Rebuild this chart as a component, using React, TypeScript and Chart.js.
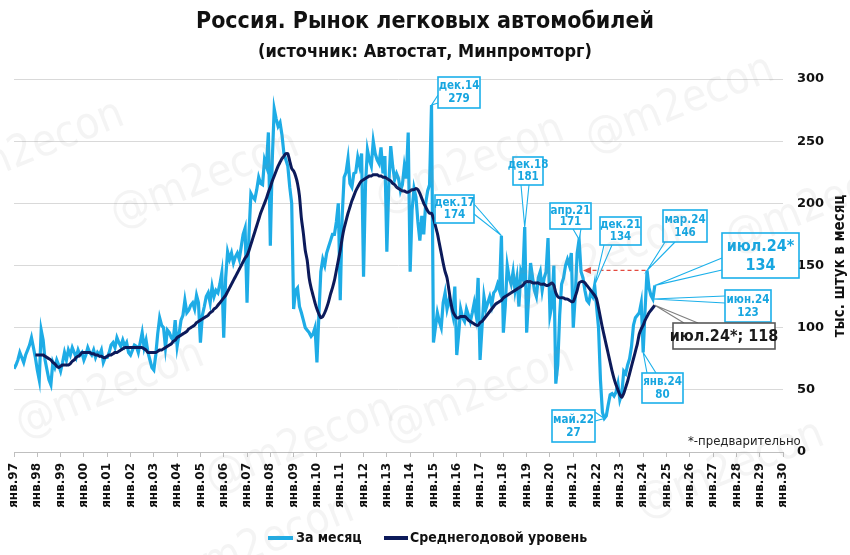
import React, { useEffect, useRef } from 'react';
import { Chart, registerables } from 'chart.js';

Chart.register(...registerables);

const START_YEAR = 1997;
const MONTH_NAMES = ['янв', 'фев', 'мар', 'апр', 'май', 'июн', 'июл', 'авг', 'сен', 'окт', 'ноя', 'дек'];
const seriesNames = ['За месяц', 'Среднегодовой уровень'];
const xTickLabels = [
  'янв.97', 'янв.98', 'янв.99', 'янв.00', 'янв.01', 'янв.02', 'янв.03', 'янв.04', 'янв.05', 'янв.06',
  'янв.07', 'янв.08', 'янв.09', 'янв.10', 'янв.11', 'янв.12', 'янв.13', 'янв.14', 'янв.15', 'янв.16',
  'янв.17', 'янв.18', 'янв.19', 'янв.20', 'янв.21', 'янв.22', 'янв.23', 'янв.24', 'янв.25', 'янв.26',
  'янв.27', 'янв.28', 'янв.29', 'янв.30',
];
const yTicks = [0, 50, 100, 150, 200, 250, 300];

// monthly sales, thousand cars (Jan 1997 .. Jul 2024)
const monthlySales = [
  67, 70, 74, 80, 76, 72, 78, 82, 86, 92, 84, 76, // 1997
  66, 58, 98, 90, 74, 66, 58, 54, 72, 68, 74, 70, // 1998
  65, 72, 80, 74, 82, 78, 84, 80, 76, 82, 78, 80, // 1999
  74, 78, 84, 80, 78, 82, 76, 80, 78, 82, 72, 76, // 2000
  76, 80, 86, 88, 84, 92, 88, 85, 90, 85, 88, 80, // 2001
  78, 82, 86, 85, 80, 88, 96, 84, 90, 80, 74, 68, // 2002
  66, 78, 95, 108, 102, 100, 84, 98, 96, 92, 90, 106, // 2003
  85, 95, 106, 110, 122, 112, 114, 118, 120, 115, 126, 120, // 2004
  88, 110, 117, 125, 128, 120, 133, 125, 130, 128, 135, 144, // 2005
  92, 140, 161, 155, 160, 152, 157, 160, 155, 165, 175, 180, // 2006
  120, 175, 208, 205, 203, 211, 221, 216, 215, 235, 230, 257, // 2007
  166, 235, 276, 268, 262, 265, 255, 240, 235, 230, 213, 200, // 2008
  115, 130, 132, 117, 112, 106, 100, 98, 96, 93, 95, 100, // 2009
  72, 110, 145, 155, 150, 160, 165, 170, 175, 175, 185, 200, // 2010
  122, 190, 221, 225, 236, 216, 213, 224, 225, 237, 230, 240, // 2011
  141, 215, 243, 235, 230, 250, 240, 235, 232, 245, 224, 238, // 2012
  161, 215, 246, 230, 219, 224, 220, 210, 215, 230, 220, 257, // 2013
  145, 195, 212, 205, 185, 170, 190, 175, 200, 210, 215, 279, // 2014
  88, 100, 112, 105, 100, 120, 128, 115, 122, 118, 110, 133, // 2015
  78, 95, 115, 108, 105, 115, 110, 105, 112, 120, 110, 140, // 2016
  74, 100, 125, 115, 120, 125, 118, 128, 130, 135, 130, 174, // 2017
  96, 118, 150, 140, 135, 145, 130, 140, 117, 145, 140, 181, // 2018
  96, 125, 152, 141, 130, 125, 140, 145, 130, 140, 145, 172, // 2019
  110, 118, 150, 55, 70, 110, 135, 140, 150, 155, 150, 160, // 2020
  100, 125, 160, 171, 145, 140, 130, 122, 120, 128, 125, 134, // 2021
  117, 100, 58, 32, 27, 29, 38, 46, 47, 45, 48, 55, // 2022
  42, 47, 65, 63, 70, 75, 85, 102, 108, 110, 112, 120, // 2023
  80, 115, 146, 132, 126, 123, 134, // 2024
];

// 12-month average level, thousand cars
const annualAverage = [
  null, null, null, null, null, null, null, null, null, null, null, 78, // 1997
  78, 78, 78, 78, 77, 76, 75, 74, 72, 71, 69, 68, // 1998
  69, 70, 70, 70, 70, 71, 73, 74, 76, 77, 78, 80, // 1999
  80, 80, 80, 80, 79, 79, 78, 78, 77, 77, 76, 76, // 2000
  77, 78, 78, 79, 80, 80, 81, 82, 83, 84, 84, 84, // 2001
  84, 84, 84, 84, 84, 84, 84, 83, 82, 80, 80, 80, // 2002
  80, 80, 81, 82, 82, 83, 84, 85, 86, 87, 89, 90, // 2003
  92, 93, 94, 95, 96, 97, 99, 100, 101, 102, 104, 105, // 2004
  106, 107, 108, 109, 110, 112, 113, 115, 116, 118, 120, 122, // 2005
  124, 126, 129, 132, 135, 138, 141, 144, 147, 150, 153, 156, // 2006
  158, 162, 167, 172, 177, 182, 187, 192, 196, 200, 204, 209, // 2007
  213, 218, 222, 226, 230, 233, 236, 238, 240, 240, 234, 228, // 2008
  226, 222, 216, 206, 188, 176, 162, 154, 140, 132, 126, 120, // 2009
  115, 111, 108, 109, 112, 116, 121, 127, 132, 138, 146, 154, // 2010
  162, 172, 180, 186, 192, 197, 202, 206, 210, 213, 216, 218, // 2011
  219, 220, 221, 222, 222, 223, 223, 223, 222, 222, 221, 221, // 2012
  220, 219, 218, 216, 215, 213, 212, 211, 210, 210, 209, 209, // 2013
  210, 211, 211, 212, 211, 208, 204, 200, 197, 194, 192, 192, // 2014
  188, 182, 176, 168, 160, 152, 145, 140, 130, 120, 113, 110, // 2015
  108, 108, 109, 109, 109, 108, 106, 105, 104, 103, 102, 102, // 2016
  104, 105, 107, 109, 111, 113, 115, 117, 119, 120, 121, 122, // 2017
  124, 125, 126, 127, 128, 129, 130, 131, 132, 133, 134, 136, // 2018
  137, 137, 137, 136, 136, 136, 136, 135, 135, 135, 134, 134, // 2019
  135, 136, 134, 128, 125, 124, 124, 124, 123, 123, 122, 121, // 2020
  121, 125, 130, 136, 137, 137, 136, 134, 132, 130, 128, 126, // 2021
  123, 116, 108, 100, 93, 86, 79, 72, 65, 59, 54, 50, // 2022
  46, 44, 47, 52, 57, 63, 69, 75, 81, 87, 95, 99, // 2023
  102, 106, 109, 112, 114, 116, 118, // 2024
];

const FONT = '"Liberation Sans Narrow", "DejaVu Sans Condensed", "Open Sans", sans-serif';
const WIDE_FONT = '"DejaVu Sans", Verdana, sans-serif';
const CYAN = '#1eace6';
const NAVY = '#0c1a5a';
const BOX_BLUE = '#1bb0ea';
const TEXT_BLUE = '#17a6e0';

const monthLabel = (i: number) =>
  MONTH_NAMES[i % 12] + '.' + String((START_YEAR + Math.floor(i / 12)) % 100).padStart(2, '0');

// callout layout (pixel boxes); values come from the data arrays
const callouts = [
  { series: 'm', idx: 215, box: [438, 77, 42, 31], base: [[438, 95], [438, 103]] },
  { series: 'm', idx: 251, box: [435, 195, 39, 28], base: [[474, 204], [474, 214]] },
  { series: 'm', idx: 263, box: [513, 157, 30, 28], base: [[521, 185], [529, 185]] },
  { series: 'm', idx: 291, box: [550, 203, 41, 26], base: [[573, 229], [581, 229]] },
  { series: 'm', idx: 299, box: [600, 217, 41, 28], base: [[604, 245], [612, 245]] },
  { series: 'm', idx: 326, box: [663, 210, 44, 32], base: [[665, 242], [675, 242]] },
  { series: 'm', idx: 330, box: [722, 233, 77, 45], base: [[722, 258], [722, 270]], big: true, star: true },
  { series: 'm', idx: 329, box: [725, 290, 46, 32], base: [[725, 296], [725, 303]] },
  { series: 'a', idx: 330, box: [673, 323, 102, 26], base: [[684, 323], [698, 323]], dark: true, star: true },
  { series: 'm', idx: 324, box: [642, 373, 41, 30], base: [[647, 373], [656, 373]] },
  { series: 'm', idx: 304, box: [552, 410, 43, 32], base: [[595, 412], [595, 421]] },
];

const watermarks = [
  [30, 150], [205, 180], [680, 105], [470, 165], [600, 260], [110, 390],
  [300, 445], [480, 395], [730, 470], [260, 545], [820, 205],
];

const overlayPlugin = {
  id: 'overlay',
  afterDatasetsDraw(chart: any) {
    const { ctx, scales } = chart;
    const x = scales.x;
    const y = scales.y;

    const arrowVal = monthlySales[326];
    const ay = y.getPixelForValue(arrowVal);
    const ax1 = x.getPixelForValue(325.2);
    const ax2 = x.getPixelForValue(293);
    ctx.save();
    ctx.strokeStyle = '#e34a3f';
    ctx.fillStyle = '#e34a3f';
    ctx.lineWidth = 1.3;
    ctx.setLineDash([4, 3]);
    ctx.beginPath();
    ctx.moveTo(ax1, ay);
    ctx.lineTo(ax2 + 6, ay);
    ctx.stroke();
    ctx.setLineDash([]);
    ctx.beginPath();
    ctx.moveTo(ax2, ay);
    ctx.lineTo(ax2 + 8, ay - 3.5);
    ctx.lineTo(ax2 + 8, ay + 3.5);
    ctx.closePath();
    ctx.fill();
    ctx.restore();

    callouts.forEach((c: any) => {
      const src = c.series === 'a' ? annualAverage : monthlySales;
      const v = src[c.idx] as number;
      const tx = x.getPixelForValue(c.idx);
      const ty = y.getPixelForValue(v);
      const [bx, by, bw, bh] = c.box;
      const border = c.dark ? '#595959' : BOX_BLUE;
      ctx.save();
      ctx.fillStyle = '#fff';
      ctx.strokeStyle = c.dark ? '#7f7f7f' : BOX_BLUE;
      ctx.lineWidth = 1.1;
      ctx.beginPath();
      ctx.moveTo(c.base[0][0], c.base[0][1]);
      ctx.lineTo(tx, ty);
      ctx.lineTo(c.base[1][0], c.base[1][1]);
      ctx.closePath();
      ctx.fill();
      ctx.beginPath();
      ctx.moveTo(c.base[0][0], c.base[0][1]);
      ctx.lineTo(tx, ty);
      ctx.lineTo(c.base[1][0], c.base[1][1]);
      ctx.stroke();
      ctx.fillStyle = '#fff';
      ctx.fillRect(bx, by, bw, bh);
      ctx.lineWidth = 1.6;
      ctx.strokeStyle = border;
      ctx.strokeRect(bx, by, bw, bh);
      const name = monthLabel(c.idx) + (c.star ? '*' : '');
      ctx.textAlign = 'center';
      ctx.textBaseline = 'middle';
      const cx = bx + bw / 2;
      if (c.dark) {
        ctx.fillStyle = '#1a1a1a';
        ctx.font = `bold 16px ${FONT}`;
        ctx.fillText(`${name}; ${v}`, cx, by + bh / 2 + 1);
      } else {
        ctx.fillStyle = TEXT_BLUE;
        const fs = c.big ? 16 : 11.5;
        ctx.font = `bold ${fs}px ${FONT}`;
        ctx.fillText(name, cx, by + bh * 0.3);
        ctx.fillText(String(v), cx, by + bh * 0.72);
      }
      ctx.restore();
    });
  },
  afterDraw(chart: any) {
    const { ctx, width } = chart;
    ctx.save();
    ctx.fillStyle = '#111';
    ctx.textAlign = 'center';
    ctx.textBaseline = 'middle';
    ctx.font = `bold 23px ${FONT}`;
    ctx.fillText('Россия. Рынок легковых автомобилей', width / 2, 22);
    ctx.font = `bold 18px ${FONT}`;
    ctx.fillText('(источник: Автостат, Минпромторг)', width / 2, 52);

    ctx.save();
    ctx.translate(840, 266);
    ctx.rotate(-Math.PI / 2);
    ctx.font = `bold 15px ${FONT}`;
    ctx.fillText('тыс. штук в месяц', 0, 0);
    ctx.restore();

    ctx.textAlign = 'left';
    ctx.font = `13px ${FONT}`;
    ctx.fillStyle = '#222';
    ctx.fillText('*-предварительно', 688, 442);

    const ly = 538;
    ctx.lineWidth = 4;
    ctx.strokeStyle = CYAN;
    ctx.beginPath();
    ctx.moveTo(268, ly);
    ctx.lineTo(293, ly);
    ctx.stroke();
    ctx.strokeStyle = NAVY;
    ctx.beginPath();
    ctx.moveTo(384, ly);
    ctx.lineTo(408, ly);
    ctx.stroke();
    ctx.fillStyle = '#111';
    ctx.font = `bold 14px ${FONT}`;
    ctx.textBaseline = 'middle';
    ctx.fillText(seriesNames[0], 296, ly);
    ctx.fillText(seriesNames[1], 410, ly);

    ctx.font = `44px ${FONT}`;
    ctx.fillStyle = 'rgba(150,150,150,0.10)';
    ctx.textAlign = 'center';
    watermarks.forEach(([wx, wy]) => {
      ctx.save();
      ctx.translate(wx, wy);
      ctx.rotate(-0.38);
      ctx.fillText('@m2econ', 0, 0);
      ctx.restore();
    });
    ctx.restore();
  },
};

export default function App() {
  const canvasRef = useRef<HTMLCanvasElement | null>(null);

  useEffect(() => {
    document.body.style.margin = '0';
    const canvas = canvasRef.current;
    if (!canvas) return;
    const chart = new Chart(canvas, {
      type: 'line',
      data: {
        datasets: [
          {
            label: seriesNames[0],
            data: monthlySales.map((v, i) => ({ x: i, y: v })),
            borderColor: CYAN,
            backgroundColor: CYAN,
            borderWidth: 3.2,
            pointRadius: 0,
            tension: 0,
            order: 2,
          },
          {
            label: seriesNames[1],
            data: annualAverage.map((v, i) => ({ x: i, y: v })),
            borderColor: NAVY,
            backgroundColor: NAVY,
            borderWidth: 3,
            pointRadius: 0,
            tension: 0.2,
            order: 1,
          },
        ],
      },
      options: {
        animation: false,
        responsive: true,
        maintainAspectRatio: false,
        layout: { padding: { top: 79, left: 14, right: 0, bottom: 0 } },
        plugins: {
          legend: { display: false },
          title: { display: false },
          tooltip: { enabled: false },
        },
        scales: {
          x: {
            type: 'linear',
            min: 0,
            max: (xTickLabels.length - 1) * 12,
            afterBuildTicks: (scale: any) => {
              scale.ticks = xTickLabels.map((_, i) => ({ value: i * 12 }));
            },
            afterFit: (scale: any) => {
              scale.height = 103;
            },
            ticks: {
              autoSkip: false,
              minRotation: 90,
              maxRotation: 90,
              padding: 6,
              color: '#111',
              font: { family: WIDE_FONT, weight: 'bold', size: 12 },
              callback: (value: any) => xTickLabels[Math.round(Number(value) / 12)],
            },
            grid: {
              drawOnChartArea: false,
              drawTicks: true,
              tickLength: 5,
              color: '#bfbfbf',
            },
            border: { display: true, color: '#bfbfbf' },
          },
          y: {
            position: 'right',
            min: 0,
            max: 300,
            afterBuildTicks: (scale: any) => {
              scale.ticks = yTicks.map((v) => ({ value: v }));
            },
            afterFit: (scale: any) => {
              scale.width = 67;
            },
            ticks: {
              padding: 14,
              color: '#111',
              font: { family: WIDE_FONT, weight: 'bold', size: 13 },
            },
            grid: { color: '#d9d9d9', drawTicks: false, lineWidth: 1 },
            border: { display: false },
          },
        },
      } as any,
      plugins: [overlayPlugin],
    });
    return () => chart.destroy();
  }, []);

  return (
    <div style={{ width: 850, height: 555, position: 'relative' }}>
      <canvas ref={canvasRef} />
    </div>
  );
}
